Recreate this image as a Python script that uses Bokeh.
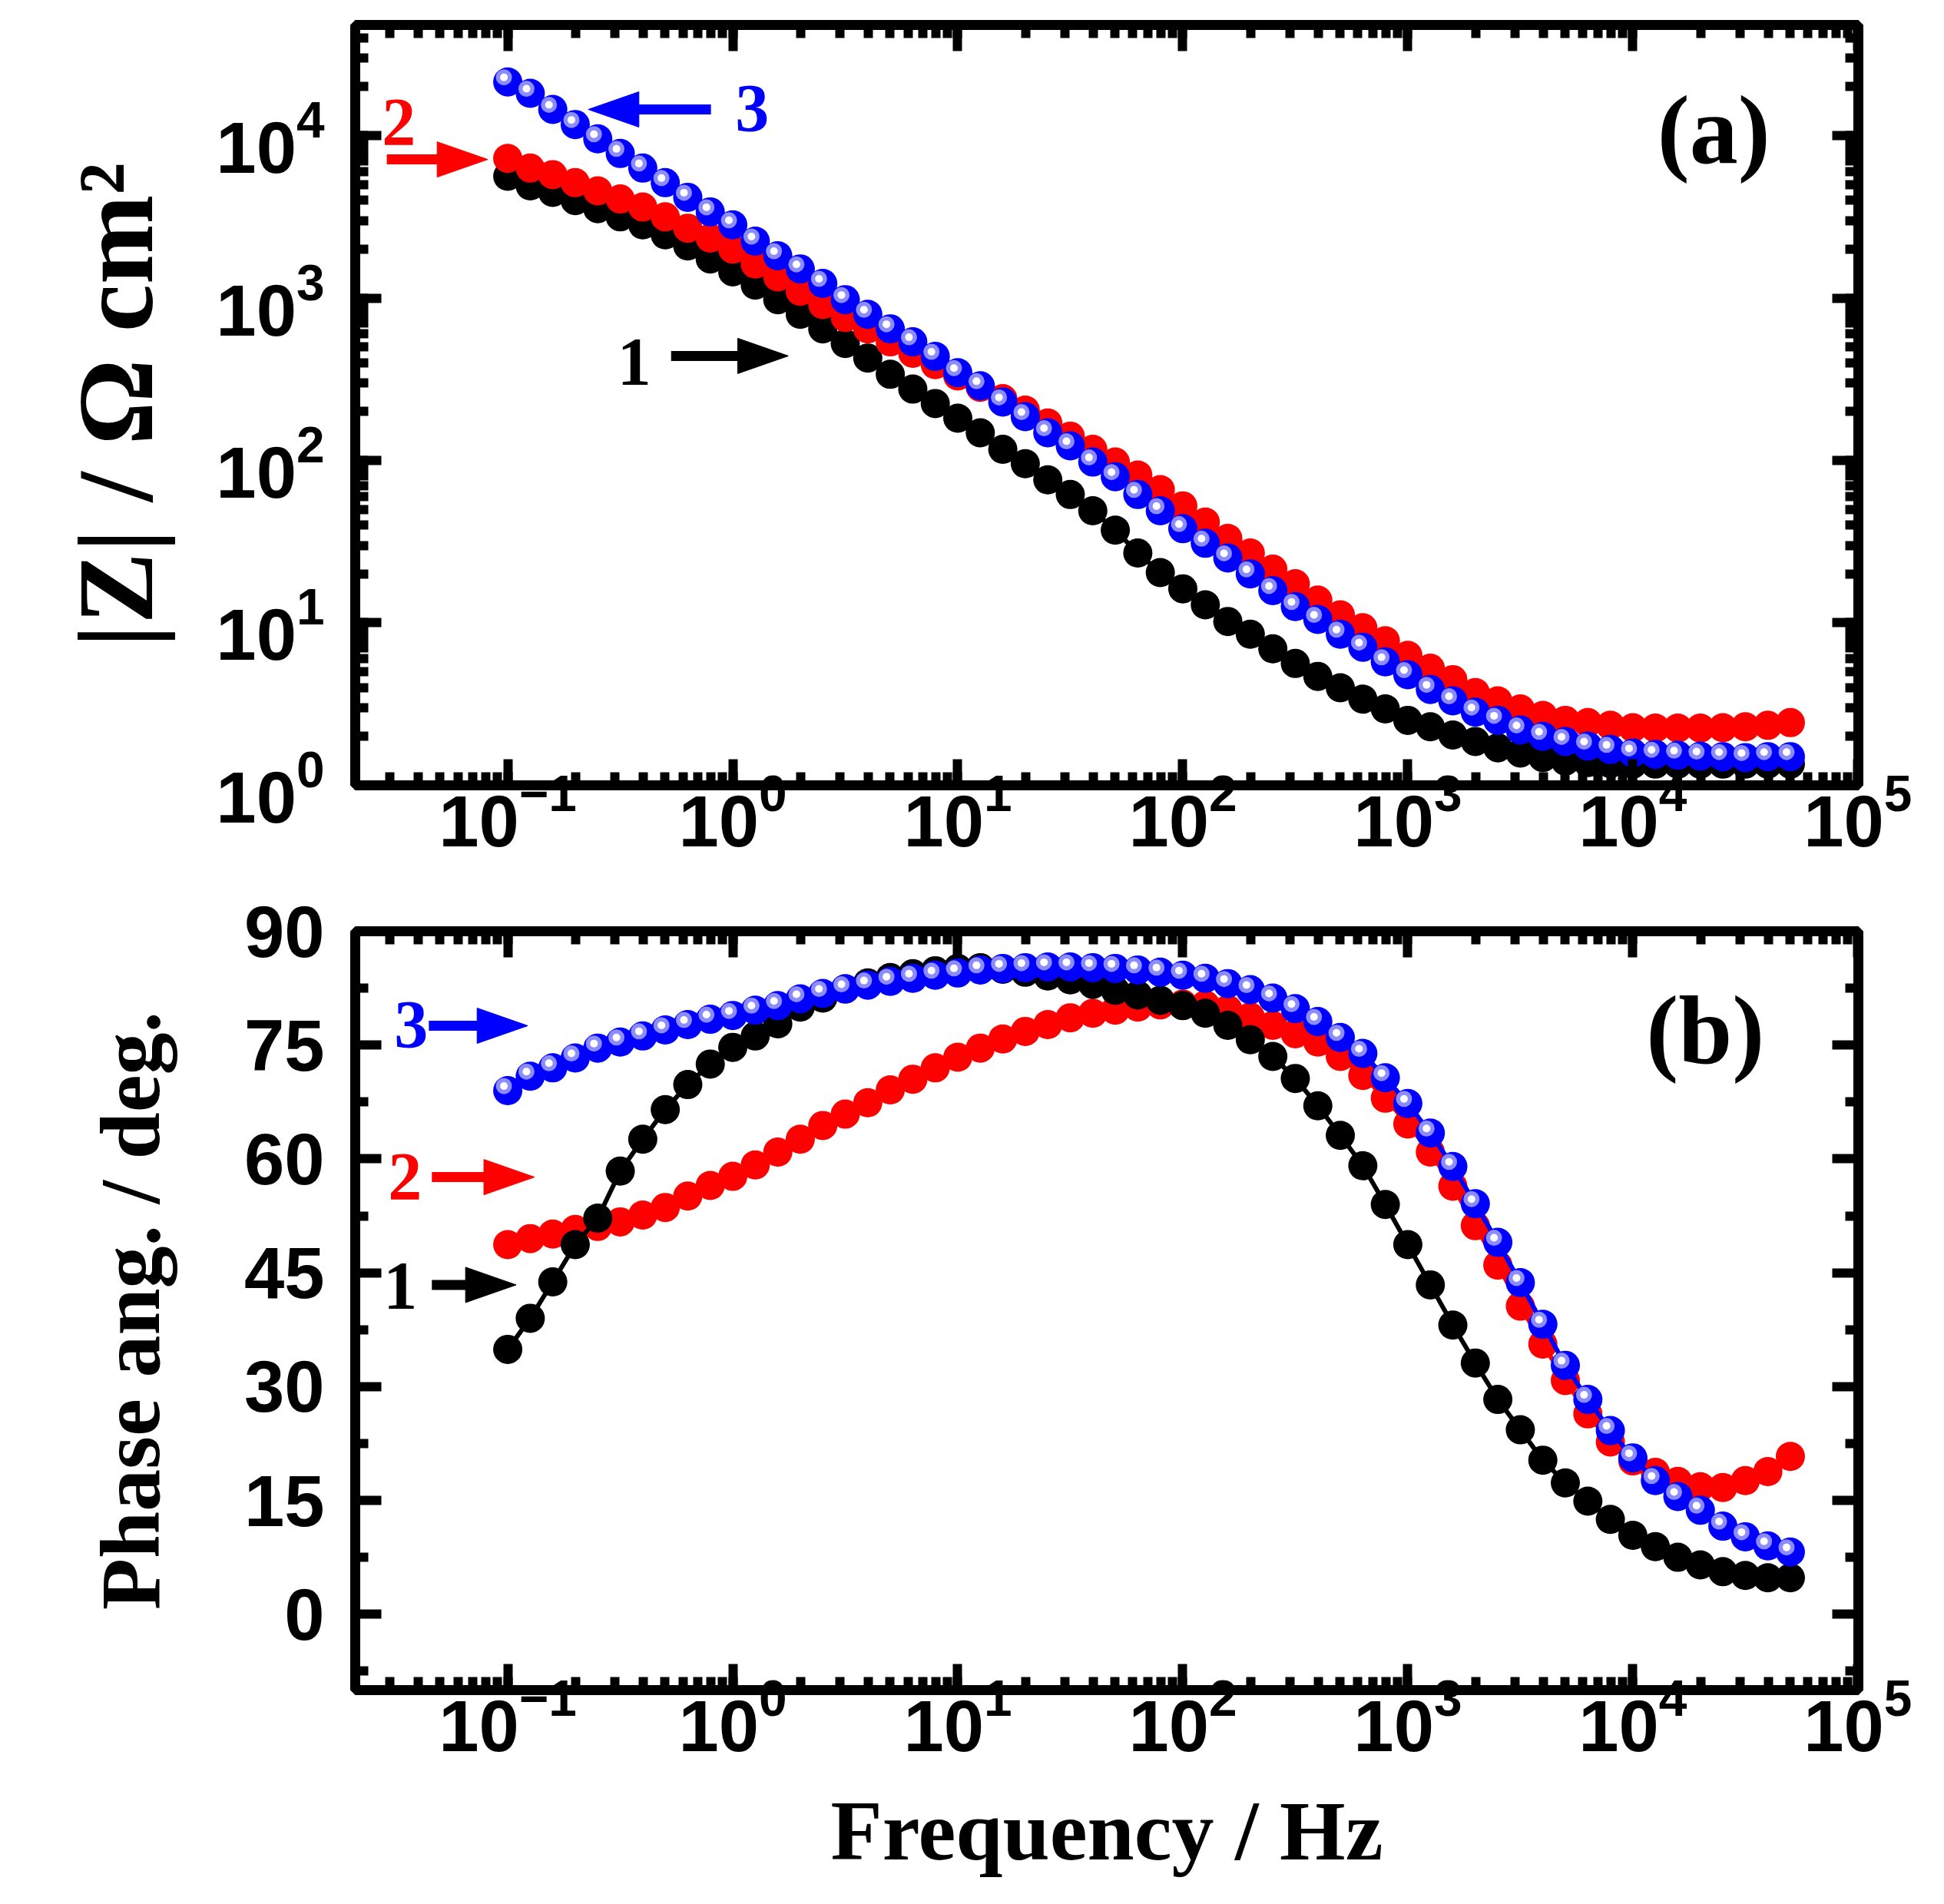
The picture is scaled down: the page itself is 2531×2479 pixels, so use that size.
from bokeh.plotting import figure
from bokeh.models import Range1d, LogAxis, LinearAxis, LogTicker, FixedTicker
from bokeh.core.properties import value
from bokeh.layouts import column
from bokeh.embed import file_html
from bokeh.resources import INLINE

# ---------------- data ----------------
freq = [0.1, 0.1259, 0.1585, 0.1995, 0.2512, 0.3162, 0.3981, 0.5012, 0.6310, 0.7943,
        1.0, 1.259, 1.585, 1.995, 2.512, 3.162, 3.981, 5.012, 6.310, 7.943,
        10.0, 12.59, 15.85, 19.95, 25.12, 31.62, 39.81, 50.12, 63.10, 79.43,
        100.0, 125.9, 158.5, 199.5, 251.2, 316.2, 398.1, 501.2, 631.0, 794.3,
        1000, 1259, 1585, 1995, 2512, 3162, 3981, 5012, 6310, 7943,
        10000, 12590, 15850, 19950, 25120, 31620, 39810, 50120]

# |Z| / Ohm cm2
z_1 = [5620, 4900, 4470, 3980, 3550, 3160, 2820, 2450, 2090, 1740,
       1450, 1200, 977, 794, 646, 525, 427, 339, 275, 224,
       182, 148, 117, 95.5, 75.9, 61.7, 49.0, 37.2, 26.9, 20.4,
       16.2, 12.9, 10.2, 8.51, 6.92, 5.62, 4.68, 3.98, 3.39, 2.95,
       2.51, 2.29, 2.04, 1.86, 1.70, 1.58, 1.48, 1.41, 1.38, 1.36,
       1.35, 1.35, 1.35, 1.35, 1.35, 1.35, 1.35, 1.35]
z_2 = [7240, 6310, 5750, 5130, 4570, 4070, 3630, 3160, 2690, 2340,
       2000, 1620, 1350, 1100, 912, 759, 646, 537, 457, 389,
       331, 282, 240, 204, 170, 141, 117, 97.7, 81.3, 66.1,
       52.5, 41.7, 33.1, 26.9, 21.4, 17.4, 13.8, 11.2, 9.33, 7.76,
       6.31, 5.25, 4.47, 3.72, 3.31, 2.95, 2.69, 2.51, 2.43, 2.34,
       2.26, 2.25, 2.25, 2.25, 2.26, 2.29, 2.34, 2.43]
z_3 = [21400, 18200, 14500, 11700, 9550, 7760, 6310, 5130, 4170, 3390,
       2820, 2240, 1820, 1510, 1230, 977, 794, 646, 537, 437,
       347, 288, 229, 186, 148, 123, 97.7, 79.4, 61.7, 49.0,
       38.0, 30.9, 25.1, 20.0, 15.8, 12.6, 10.5, 8.51, 7.08, 5.75,
       4.79, 3.89, 3.31, 2.82, 2.51, 2.19, 2.00, 1.86, 1.74, 1.66,
       1.58, 1.55, 1.53, 1.51, 1.50, 1.48, 1.50, 1.50]

# phase angle / deg
phase_1 = [34.9, 39.0, 43.8, 48.7, 52.2, 58.4, 62.6, 66.5, 69.8, 72.5,
           74.7, 76.2, 77.8, 80.0, 81.2, 82.4, 83.2, 83.9, 84.4, 84.8,
           85.1, 85.2, 85.0, 84.6, 84.1, 83.6, 83.0, 82.2, 81.6, 80.9,
           80.2, 79.2, 77.6, 75.7, 73.5, 70.6, 67.0, 63.1, 59.1, 54.0,
           48.7, 43.4, 38.1, 33.1, 28.3, 24.3, 20.3, 17.3, 14.9, 12.5,
           10.4, 8.9, 7.5, 6.5, 5.6, 5.1, 4.8, 4.8]
phase_2 = [48.7, 49.5, 50.1, 50.7, 51.1, 51.7, 52.6, 53.6, 55.1, 56.5,
           57.7, 59.2, 60.9, 62.6, 64.4, 65.9, 67.4, 69.1, 70.5, 72.0,
           73.4, 74.6, 75.8, 76.8, 77.7, 78.6, 79.2, 79.6, 80.0, 80.3,
           80.4, 80.3, 79.7, 78.7, 77.6, 76.5, 75.4, 73.5, 71.0, 68.0,
           64.6, 60.9, 56.4, 51.2, 46.0, 40.6, 35.6, 30.8, 26.4, 22.7,
           20.2, 18.7, 17.5, 16.8, 16.7, 17.6, 18.8, 20.8]
phase_3 = [69.0, 70.9, 72.0, 73.3, 74.6, 75.4, 76.2, 77.0, 77.7, 78.4,
           78.9, 79.6, 80.2, 81.1, 81.8, 82.4, 82.9, 83.4, 83.8, 84.2,
           84.5, 84.9, 85.1, 85.2, 85.3, 85.3, 85.2, 85.1, 84.9, 84.6,
           84.2, 83.8, 83.1, 82.3, 81.2, 79.8, 78.1, 76.0, 73.9, 70.7,
           67.3, 63.4, 59.0, 54.1, 49.0, 43.7, 38.2, 32.8, 28.3, 24.2,
           20.6, 17.6, 15.5, 13.7, 11.6, 10.2, 9.0, 8.2]

phase_ticks = [0, 15, 30, 45, 60, 75, 90]
phase_minor = [-7.5, 7.5, 22.5, 37.5, 52.5, 67.5, 82.5]
series_labels = ["1", "2", "3"]
panel_labels = ["(a)", "(b)"]

BLACK, RED, BLUE = "#000000", "#ff0000", "#0000ff"
HILITE = "#8c8cff"
SERIF = "Liberation Serif"
SANS = "Liberation Sans"

W = 2515
LEFT, RIGHT = 462, 96
PX_PER_DECADE_X = 293.5    # frame pixels per decade of frequency
PX_PER_DECADE_Z = 211.5    # frame pixels per decade of |Z|
PX_PER_DEG = 9.88          # frame pixels per degree of phase
HEAD_LEN, HEAD_HALF = 66, 23


def style(p):
    p.outline_line_color = "black"
    p.outline_line_width = 13
    p.outline_line_alpha = 1.0
    p.xgrid.visible = False
    p.ygrid.visible = False
    p.background_fill_color = "white"
    p.border_fill_color = "white"
    for ax in list(p.xaxis) + list(p.yaxis):
        ax.axis_line_color = None
        ax.major_tick_in = 34
        ax.major_tick_out = 0
        ax.minor_tick_in = 17
        ax.minor_tick_out = 0
        ax.major_tick_line_width = 12
        ax.minor_tick_line_width = 12
        ax.major_tick_line_color = "black"
        ax.minor_tick_line_color = "black"
        ax.major_label_text_font = SANS
        ax.major_label_text_font_style = "bold"
        ax.major_label_text_font_size = "94px"
        ax.major_label_text_color = "black"
        ax.axis_label_text_font = SERIF
        ax.axis_label_text_font_style = "bold"
        ax.axis_label_text_color = "black"


def mirror(ax):
    ax.major_label_text_color = None
    ax.major_label_text_font_size = "1px"
    ax.major_label_standoff = 0


def tags(p, xs, ys, texts, colors, size):
    p.text(x=xs, y=ys, text=texts, text_color=colors, text_align="center",
           text_baseline="middle", text_font=value(SERIF),
           text_font_style="bold", text_font_size=size)


def add_arrow(p, x_tail, x_tip, y, color, yshift):
    d = 1 if x_tip > x_tail else -1
    x_base = x_tip / 10 ** (d * HEAD_LEN / PX_PER_DECADE_X)
    x_join = x_tip / 10 ** (d * (HEAD_LEN - 12) / PX_PER_DECADE_X)
    p.segment(x0=[x_tail], y0=[y], x1=[x_join], y1=[y], line_color=color, line_width=13)
    p.patch(x=[x_tip, x_base, x_base], y=[y, yshift(y, HEAD_HALF), yshift(y, -HEAD_HALF)],
            fill_color=color, line_color=color, line_width=1)


def shift_log(y, px):
    return y * 10 ** (px / PX_PER_DECADE_Z)


def shift_lin(y, px):
    return y + px / PX_PER_DEG


x_range = Range1d(0.021, 1.005e5)

# ---------------- panel (a) ----------------
p1 = figure(width=W, height=1160, x_axis_type="log", y_axis_type="log",
            x_range=x_range, y_range=Range1d(0.999, 48000),
            output_backend="svg", toolbar_location=None,
            min_border_left=LEFT, min_border_right=RIGHT,
            min_border_top=32, min_border_bottom=138)
bottom1, left1 = p1.below[0], p1.left[0]
bottom1.ticker = LogTicker(num_minor_ticks=10)
left1.ticker = LogTicker(num_minor_ticks=10)
top1 = LogAxis(ticker=LogTicker(num_minor_ticks=10))
right1 = LogAxis(ticker=LogTicker(num_minor_ticks=10))
p1.add_layout(top1, "above")
p1.add_layout(right1, "right")
style(p1)
mirror(top1)
mirror(right1)
bottom1.major_label_standoff = -18
left1.major_label_standoff = 40
left1.axis_label = "|Z| / \u03a9 cm\u00b2"
left1.axis_label_text_font_size = "140px"
left1.axis_label_standoff = 50

hx = [f * 0.9616 for f in freq]
p1.line(freq, z_1, line_color=BLACK, line_width=6)
p1.scatter(freq, z_1, size=38, fill_color=BLACK, line_color=None)
p1.line(freq, z_2, line_color=RED, line_width=6)
p1.scatter(freq, z_2, size=38, fill_color=RED, line_color=None)
p1.line(freq, z_3, line_color=BLUE, line_width=6)
p1.scatter(freq, z_3, size=38, fill_color=BLUE, line_color=None)
hz = [z * 1.0675 for z in z_3]
p1.scatter(hx, hz, size=21, fill_color=HILITE, line_color=None)
p1.scatter(hx, hz, size=10, fill_color="white", line_color=None)

add_arrow(p1, 0.80, 0.228, 14490, BLUE, shift_log)
add_arrow(p1, 0.029, 0.0815, 7130, RED, shift_log)
add_arrow(p1, 0.532, 1.766, 440, BLACK, shift_log)
tags(p1, [1.22, 0.0328, 0.365], [14800, 12170, 403],
     [series_labels[2], series_labels[1], series_labels[0]], [BLUE, RED, BLACK], "88px")
tags(p1, [22880], [10790], [panel_labels[0]], [BLACK], "126px")

# ---------------- panel (b) ----------------
p2 = figure(width=W, height=1302, x_axis_type="log",
            x_range=x_range, y_range=Range1d(-10, 90),
            output_backend="svg", toolbar_location=None,
            min_border_left=LEFT, min_border_right=RIGHT,
            min_border_top=52, min_border_bottom=262)
bottom2, left2 = p2.below[0], p2.left[0]
bottom2.ticker = LogTicker(num_minor_ticks=10)
left2.ticker = FixedTicker(ticks=phase_ticks, minor_ticks=phase_minor)
top2 = LogAxis(ticker=LogTicker(num_minor_ticks=10))
right2 = LinearAxis(ticker=FixedTicker(ticks=phase_ticks, minor_ticks=phase_minor))
p2.add_layout(top2, "above")
p2.add_layout(right2, "right")
style(p2)
mirror(top2)
mirror(right2)
bottom2.major_label_standoff = -18
bottom2.axis_label = "Frequency / Hz"
bottom2.axis_label_text_font_size = "110px"
bottom2.axis_label_standoff = 40
left2.major_label_standoff = 40
left2.axis_label = "Phase ang. / deg."
left2.axis_label_text_font_size = "110px"
left2.axis_label_standoff = 84

p2.line(freq, phase_2, line_color=RED, line_width=6)
p2.scatter(freq, phase_2, size=38, fill_color=RED, line_color=None)
p2.line(freq, phase_1, line_color=BLACK, line_width=6)
p2.scatter(freq, phase_1, size=38, fill_color=BLACK, line_color=None)
p2.line(freq, phase_3, line_color=BLUE, line_width=6)
p2.scatter(freq, phase_3, size=38, fill_color=BLUE, line_color=None)
hp = [v + 0.61 for v in phase_3]
p2.scatter(hx, hp, size=21, fill_color=HILITE, line_color=None)
p2.scatter(hx, hp, size=10, fill_color="white", line_color=None)

add_arrow(p2, 0.0446, 0.1227, 77.55, BLUE, shift_lin)
add_arrow(p2, 0.046, 0.1315, 57.6, RED, shift_lin)
add_arrow(p2, 0.046, 0.109, 43.4, BLACK, shift_lin)
tags(p2, [0.0372, 0.0349, 0.0333], [77.75, 57.7, 43.24],
     [series_labels[2], series_labels[1], series_labels[0]], [BLUE, RED, BLACK], "88px")
tags(p2, [20990], [76.94], [panel_labels[1]], [BLACK], "126px")

layout = column(p1, p2)
open("out.html", "w").write(file_html(layout, INLINE))
